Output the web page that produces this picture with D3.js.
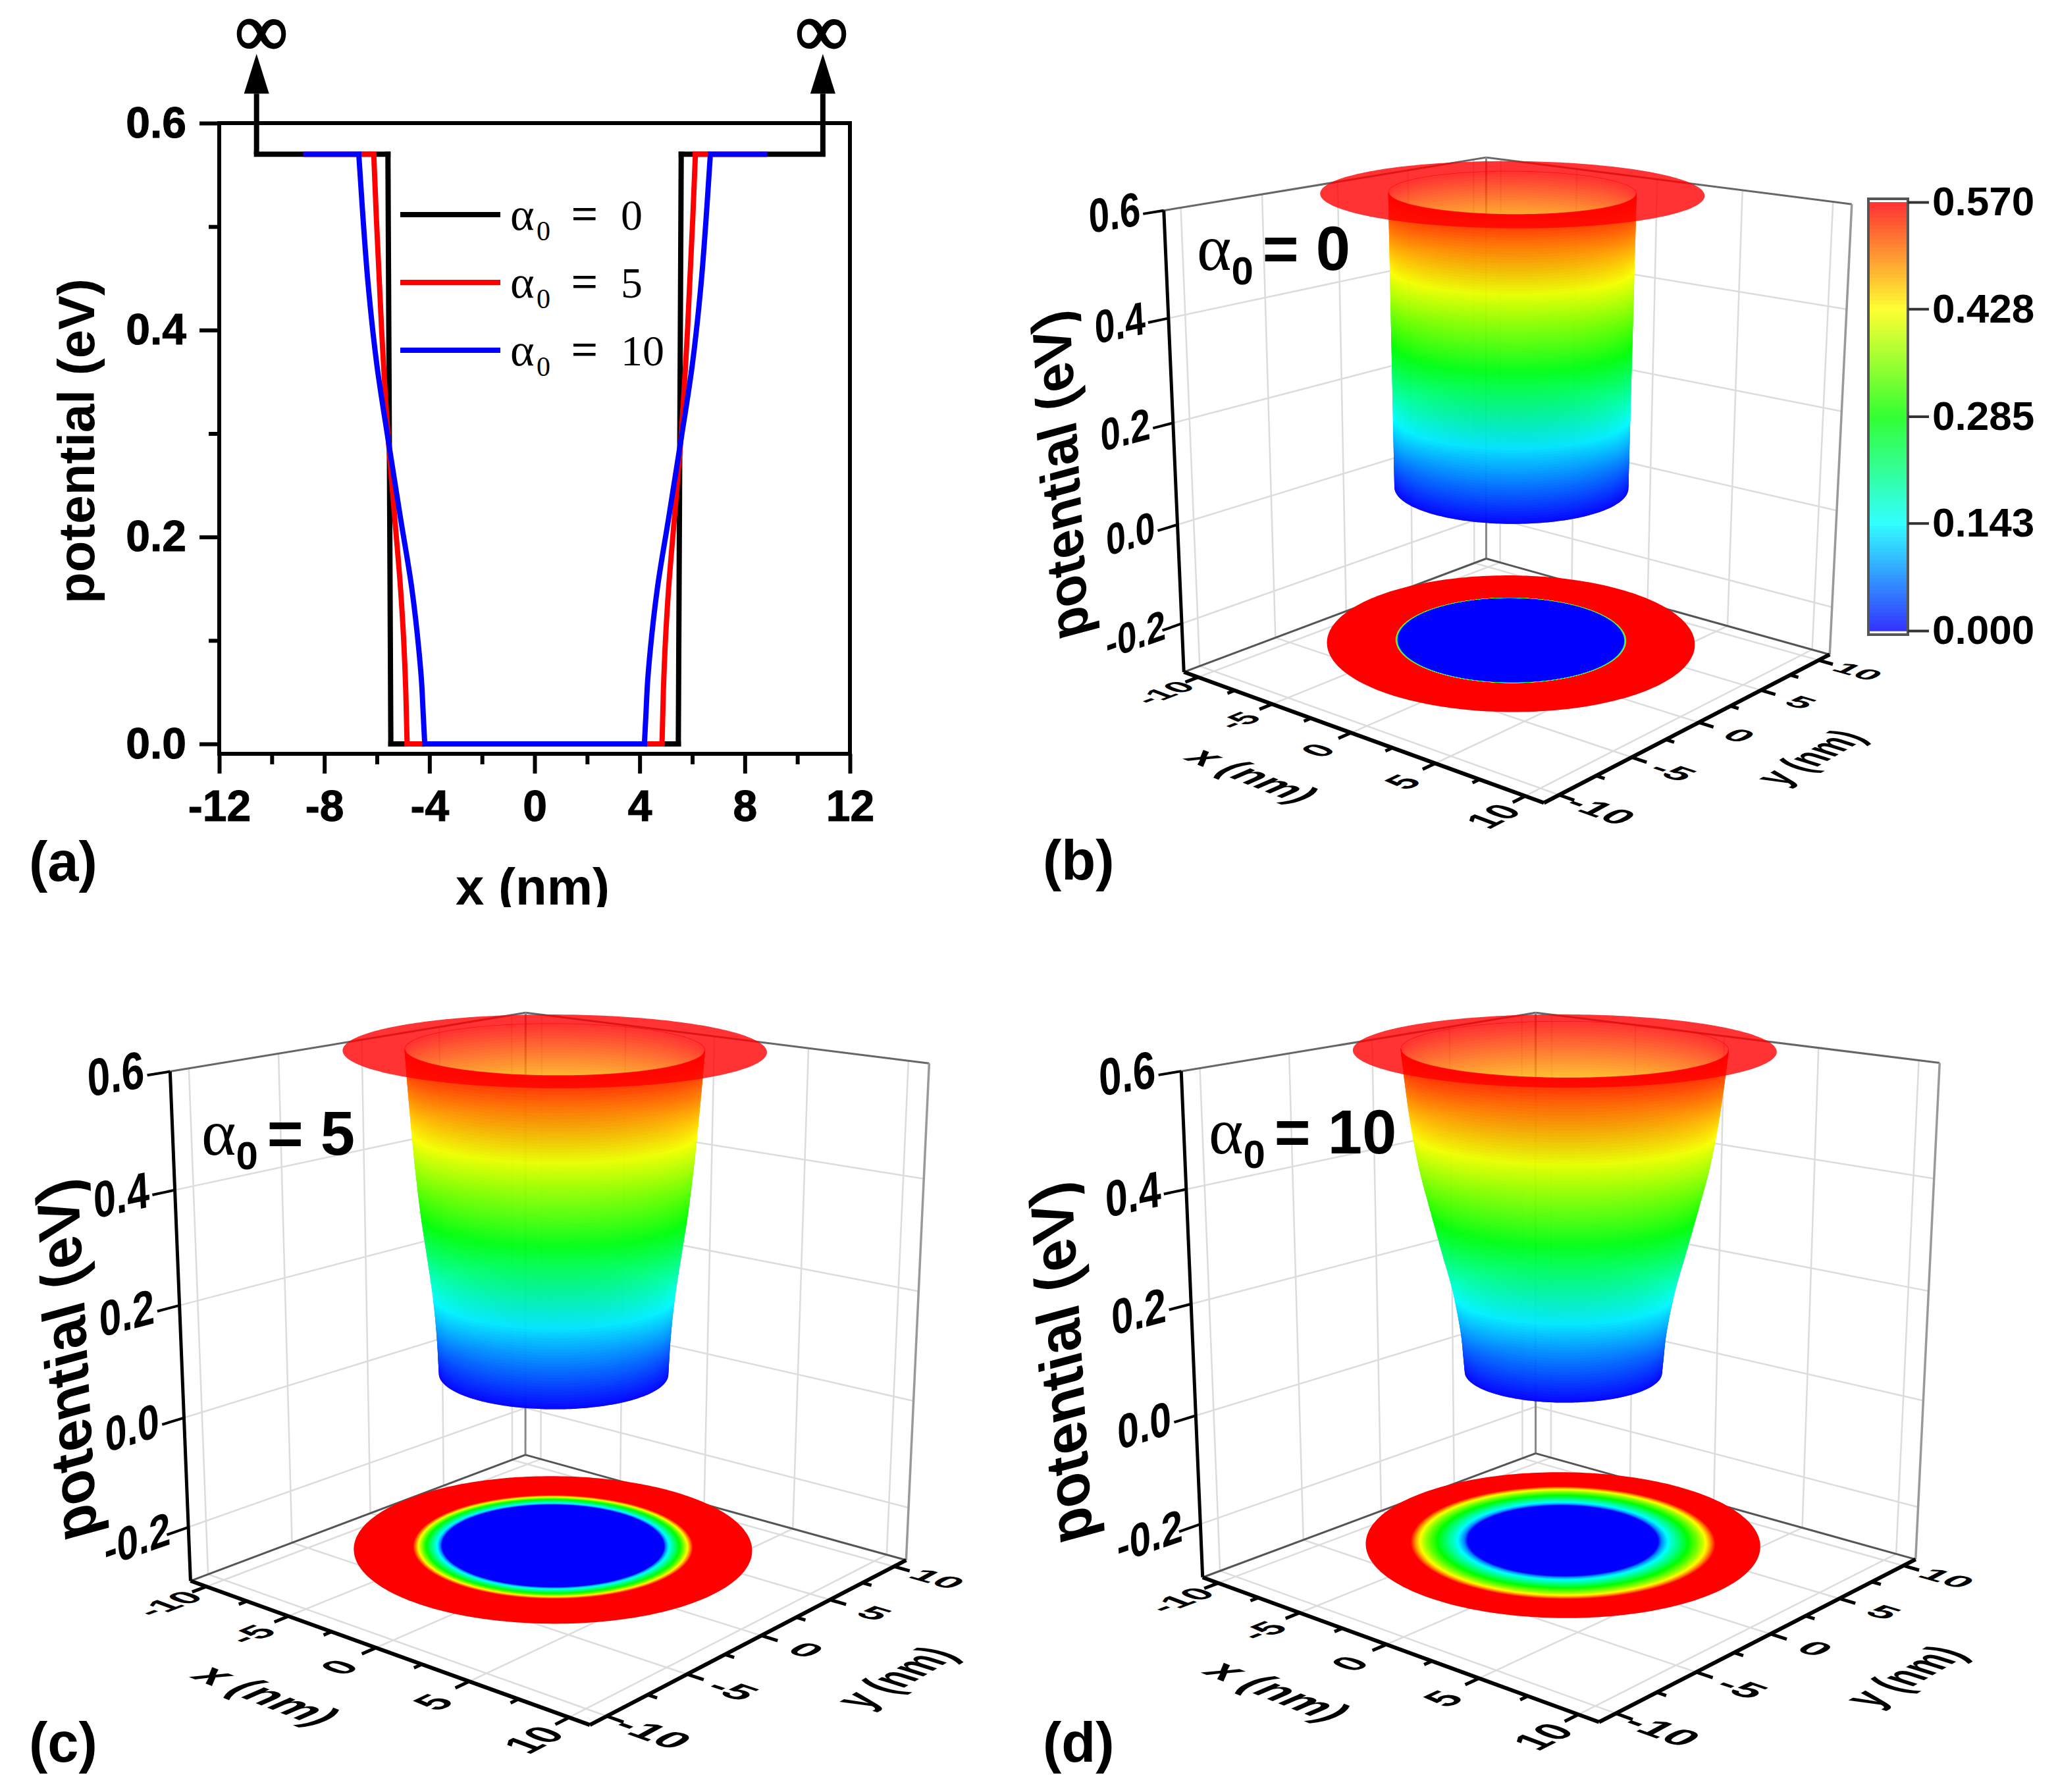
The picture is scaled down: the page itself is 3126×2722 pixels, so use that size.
<!DOCTYPE html>
<html><head><meta charset="utf-8">
<script src="https://cdnjs.cloudflare.com/ajax/libs/d3/7.8.5/d3.min.js"></script>
<style>html,body{margin:0;padding:0;background:#fff}svg{display:block}</style>
</head><body><svg id="c" width="3126" height="2722" font-family='"Liberation Sans",Arial,sans-serif'></svg>
<script>
// ---------- data ----------
const xMajorTicks = [-12,-8,-4,0,4,8,12];
const xMinorTicks = [-10,-6,-2,2,6,10];
const yMajorTicks = [0,0.2,0.4,0.6];
const yMinorTicks = [0.1,0.3,0.5];
const alphaValues = [0,5,10];
const seriesColors = ["#000000","#ff0000","#0000ff"];
const potBlack = [0,0.57];
const radBlack = [5.47,5.58];
const potRed = [0,0.05,0.1,0.15,0.218,0.292,0.40,0.508,0.57];
const radRed = [4.85,4.9,4.98,5.1,5.32,5.56,5.82,6.02,6.12];
const potBlue = [0,0.03,0.06,0.09,0.15,0.218,0.292,0.366,0.446,0.52,0.57];
const radBlue = [4.18,4.24,4.3,4.4,4.67,5.1,5.56,6.0,6.34,6.56,6.69];
const wellTop = 0.57;
const barrierEdgeBlack = [-10.58,10.97];
const barrierEdgeColored = [-8.7,8.75];
const arrowBase = 0.6285, arrowTip = 0.667;
const flangeRadius = 8.65;
const gridXY = [-10,-5,0,5,10];
const minorXY = [-7.5,-2.5,2.5,7.5];
const gridZ = [-0.2,0,0.2,0.4,0.6];
const colorTicks = [0,0.143,0.285,0.428,0.57];
const colorTickLabels = ["0.000","0.143","0.285","0.428","0.570"];
const rainbowColors = ["#0000ff","#00ffff","#00ff00","#ffff00","#ff0000"];

// ---------- layout ----------
const svg = d3.select("#c");
const SANS = '"Liberation Sans",Arial,sans-serif', SERIF='"Liberation Serif","Times New Roman",serif';
const color = d3.scaleLinear().domain(colorTicks).range(rainbowColors);
const BOX = 11, Z0 = -0.3, Z1 = 0.6;

// monotone smoothing of a read profile, used only to render it
function smoothProfile(xs,ys){
  const n=xs.length, s=d3.range(n-1).map(i=>(ys[i+1]-ys[i])/(xs[i+1]-xs[i]));
  const m=d3.range(n).map(i=> i===0?s[0]: i===n-1?s[n-2]: 2*s[i-1]*s[i]/(s[i-1]+s[i]));
  return v=>{
    let i=Math.min(d3.bisectRight(xs,v)-1,n-2); i=Math.max(i,0);
    const h=xs[i+1]-xs[i], t=(v-xs[i])/h, t2=t*t, t3=t2*t;
    return (2*t3-3*t2+1)*ys[i]+(t3-2*t2+t)*h*m[i]+(-2*t3+3*t2)*ys[i+1]+(t3-t2)*h*m[i+1];
  };
}

// ---------- panel (a) ----------
const x = d3.scaleLinear().domain([-12,12]).range([333,1291]);
const y = d3.scaleLinear().domain([0,0.6]).range([1130,187]);
const A = svg.append("g");
function styleAxis(g){
  g.select(".domain").remove();
  g.selectAll("line").attr("stroke","#000").attr("stroke-width",6);
  g.selectAll("text").attr("fill","#000").attr("font-family",SANS).attr("font-weight","bold").attr("font-size",66)
   .attr("stroke","#000").attr("stroke-width",1);
}
A.append("g").attr("transform","translate(333,0)").call(d3.axisLeft(y).tickValues(yMinorTicks).tickSize(16).tickFormat("")).call(styleAxis);
A.append("g").attr("transform","translate(333,0)").call(d3.axisLeft(y).tickValues(yMajorTicks).tickSize(30).tickPadding(20).tickFormat(d3.format(".1f"))).call(styleAxis);
A.append("g").attr("transform","translate(0,1145)").call(d3.axisBottom(x).tickValues(xMinorTicks).tickSize(16).tickFormat("")).call(styleAxis);
A.append("g").attr("transform","translate(0,1145)").call(d3.axisBottom(x).tickValues(xMajorTicks).tickSize(30).tickPadding(25).tickFormat(d=>String(d))).call(styleAxis);
A.append("rect").attr("x",333).attr("y",187).attr("width",958).attr("height",958).attr("fill","none").attr("stroke","#000").attr("stroke-width",6);
const flatLine = d3.line().x(d=>x(d[0])).y(d=>y(d[1]));
const sideLine = d3.line().x(d=>x(d[0])).y(d=>y(d[1])).curve(d3.curveMonotoneY);
const profiles = [[potBlack,radBlack,barrierEdgeBlack],[potRed,radRed,barrierEdgeColored],[potBlue,radBlue,barrierEdgeColored]];
profiles.forEach((p,i)=>{
  const rmin=p[1][0], rmax=p[1][p[1].length-1];
  const base=A.append("g").attr("fill","none").attr("stroke",seriesColors[i]).attr("stroke-width",8).attr("stroke-linejoin","miter").attr("stroke-linecap","square");
  base.append("path").attr("d",flatLine([[p[2][0],wellTop],[-rmax,wellTop]]));
  base.append("path").attr("d",flatLine([[-rmin,0],[rmin,0]]));
  base.append("path").attr("d",flatLine([[rmax,wellTop],[p[2][1],wellTop]]));
  base.append("path").attr("d",sideLine(p[0].map((v,k)=>[-p[1][k],v])));
  base.append("path").attr("d",sideLine(p[0].map((v,k)=>[p[1][k],v])));
});
barrierEdgeBlack.forEach((e,i)=>{
  A.append("path").attr("d",flatLine([[e,wellTop],[e,arrowBase]])).attr("stroke","#000").attr("stroke-width",8).attr("fill","none");
  A.append("path").attr("d",`M${x(e)-19},${y(arrowBase)}L${x(e)},${y(arrowTip)}L${x(e)+19},${y(arrowBase)}Z`).attr("fill","#000");
  A.append("text").attr("x",[397,1248][i]).attr("y",84).attr("text-anchor","middle").attr("font-family",SERIF)
   .attr("font-size",112).attr("stroke","#000").attr("stroke-width",3).text("∞");
});
alphaValues.forEach((a,i)=>{
  const yy = 326+i*103;
  A.append("line").attr("x1",608).attr("x2",760).attr("y1",yy).attr("y2",yy).attr("stroke",seriesColors[i]).attr("stroke-width",8);
  const t = (s,xx,yb,fs)=>A.append("text").attr("x",xx).attr("y",yb).attr("font-family",SERIF).attr("font-size",fs).text(s);
  t("α",775,yy+23,70); t("0",815,yy+39,42); t("=",868,yy+23,70).attr("stroke","#000").attr("stroke-width",1); t(String(a),943,yy+23,66);
});
A.append("text").attr("transform","translate(143,670) rotate(-90)").attr("text-anchor","middle")
 .attr("font-weight","bold").attr("font-size",78).text("potential (eV)");
svg.append("clipPath").attr("id","clipA").append("rect").attr("x",0).attr("y",1300).attr("width",1400).attr("height",78);
A.append("g").attr("clip-path","url(#clipA)").append("text").attr("x",809).attr("y",1374).attr("text-anchor","middle")
 .attr("font-weight","bold").attr("font-size",78).text("x (nm)");

// ---------- panel labels ----------
[["(a)",44,1338],["(b)",1584,1336],["(c)",44,2676],["(d)",1584,2676]].forEach(d=>{
  svg.append("text").attr("x",d[1]).attr("y",d[2]).attr("font-weight","bold").attr("font-size",85).text(d[0]);
});

// ---------- projective camera solved from the box corners ----------
function solve(M,b){
  const n=b.length; const a=M.map((r,i)=>[...r,b[i]]);
  for(let c=0;c<n;c++){
    let p=c; for(let r=c+1;r<n;r++) if(Math.abs(a[r][c])>Math.abs(a[p][c])) p=r;
    [a[c],a[p]]=[a[p],a[c]];
    for(let r=0;r<n;r++) if(r!==c){const f=a[r][c]/a[c][c]; for(let k=c;k<=n;k++) a[r][k]-=f*a[c][k];}
  }
  return a.map((r,i)=>r[n]/r[i]);
}
function camera(corners){
  const nz=z=>(z-0.15)/0.45, nx=v=>v/BOX, U=u=>(u-1500)/500;
  const world=[[-BOX,-BOX,Z1],[-BOX,-BOX,Z0],[-BOX,BOX,Z1],[-BOX,BOX,Z0],[BOX,BOX,Z1],[BOX,BOX,Z0],[BOX,-BOX,Z0]];
  const rows=[],rhs=[];
  world.forEach((w,i)=>{
    const X=nx(w[0]),Y=nx(w[1]),Z=nz(w[2]),u=U(corners[i][0]),v=U(corners[i][1]);
    rows.push([X,Y,Z,1,0,0,0,0,-u*X,-u*Y,-u*Z]); rhs.push(u);
    rows.push([0,0,0,0,X,Y,Z,1,-v*X,-v*Y,-v*Z]); rhs.push(v);
  });
  const N=Array.from({length:11},()=>new Array(11).fill(0)), B=new Array(11).fill(0);
  rows.forEach((r,k)=>{for(let i=0;i<11;i++){B[i]+=r[i]*rhs[k];for(let j=0;j<11;j++)N[i][j]+=r[i]*r[j];}});
  const p=solve(N,B);
  return (a,b,c)=>{
    const X=nx(a),Y=nx(b),Z=nz(c);
    const w=p[8]*X+p[9]*Y+p[10]*Z+1;
    return [(p[0]*X+p[1]*Y+p[2]*Z+p[3])/w*500+1500,(p[4]*X+p[5]*Y+p[6]*Z+p[7])/w*500+1500];
  };
}
const nAng=240, angles=d3.range(nAng).map(i=>i/nAng*2*Math.PI);
const lp=d3.line();

function panel3D(cfg){
  const P=camera(cfg.corners), g=svg.append("g");
  const seg=(a,b,st,w)=>g.append("path").attr("d",lp([P(...a),P(...b)])).attr("stroke",st).attr("stroke-width",w).attr("fill","none");
  const GRID="#dcdcdc";
  gridXY.forEach(v=>{
    seg([-BOX,v,Z0],[-BOX,v,Z1],GRID,2.5);
    seg([v,BOX,Z0],[v,BOX,Z1],GRID,2.5);
    seg([v,-BOX,Z0],[v,BOX,Z0],GRID,2.5);
    seg([-BOX,v,Z0],[BOX,v,Z0],GRID,2.5);
  });
  gridZ.slice(0,-1).forEach(z=>{
    seg([-BOX,-BOX,z],[-BOX,BOX,z],GRID,2.5);
    seg([-BOX,BOX,z],[BOX,BOX,z],GRID,2.5);
  });
  seg([-BOX,-BOX,Z1],[-BOX,BOX,Z1],"#666",3);
  seg([-BOX,BOX,Z1],[BOX,BOX,Z1],"#666",3);
  seg([-BOX,BOX,Z0],[-BOX,BOX,Z1],"#888",3);
  seg([BOX,BOX,Z0],[BOX,BOX,Z1],"#999",3.5);
  seg([-BOX,-BOX,Z0],[-BOX,BOX,Z0],"#555",3);
  seg([-BOX,BOX,Z0],[BOX,BOX,Z0],"#555",3);

  const rOf=smoothProfile(cfg.pots,cfg.rads);
  const ring=(r,v)=>angles.map(t=>P(r*Math.cos(t),r*Math.sin(t),v));
  const circle=(r,v)=>lp(ring(r,v))+"Z";
  const levels=d3.range(0,115).map(i=>i*0.005);
  // floor projection
  const fl=g.append("g").attr("transform",`translate(0,${cfg.floorDy})`);
  fl.append("path").attr("d",circle(cfg.floorR,Z0)).attr("fill",color(0.57));
  levels.slice().reverse().forEach(v=>{
    fl.append("path").attr("d",circle(rOf(v)*0.99,Z0)).attr("fill",color(v));
  });
  // funnel
  function arcs(r,v){
    const pts=ring(r,v); let a=0,b=0;
    pts.forEach((p,i)=>{if(p[0]<pts[a][0])a=i; if(p[0]>pts[b][0])b=i;});
    const walk=(s,e)=>{const o=[];for(let i=s;;i=(i+1)%nAng){o.push(pts[i]);if(i===e)break;}return o;};
    const A1=walk(a,b),A2=walk(b,a);
    return d3.mean(A1,p=>p[1])>d3.mean(A2,p=>p[1])?{front:A1,back:A2}:{front:A2,back:A1};
  }
  const sf=g.append("g").attr("transform",`translate(0,${cfg.surfDy})`);
  const back=sf.append("g").attr("opacity",0.8);
  back.append("path").attr("d",circle(rOf(0),0)).attr("fill",color(0)).attr("stroke",color(0)).attr("stroke-width",1.5);
  const front=sf.append("g").attr("opacity",0.85);
  for(let i=0;i<levels.length-1;i++){
    const v0=levels[i],v1=levels[i+1],a0=arcs(rOf(v0),v0),a1=arcs(rOf(v1),v1),c=color((v0+v1)/2);
    [[back,"back"],[front,"front"]].forEach(([grp,key])=>{
      grp.append("path").attr("d",lp(a0[key].concat(a1[key].slice().reverse()))+"Z")
        .attr("fill",c).attr("stroke",c).attr("stroke-width",1.5);
    });
  }
  sf.append("path").attr("d",circle(flangeRadius,wellTop)+circle(rOf(wellTop),wellTop))
   .attr("fill","#ff0000").attr("fill-rule","evenodd").attr("opacity",0.8);

  // axes
  seg([-BOX,-BOX,Z0],[-BOX,-BOX,Z1],"#000",5);
  seg([-BOX,-BOX,Z0],[BOX,-BOX,Z0],"#000",6);
  seg([BOX,-BOX,Z0],[BOX,BOX,Z0],"#000",6);
  gridZ.forEach(z=>seg([-BOX,-BOX,z],[-BOX,-BOX-1.2,z],"#000",4));
  gridXY.forEach(v=>{seg([v,-BOX,Z0],[v,-BOX-0.8,Z0],"#000",5);seg([BOX,v,Z0],[BOX+0.8,v,Z0],"#000",5);});
  minorXY.forEach(v=>{seg([v,-BOX,Z0],[v,-BOX-0.45,Z0],"#000",5);seg([BOX,v,Z0],[BOX+0.45,v,Z0],"#000",5);});

  function planeText(s,p,u,v,emU,emV){
    const c=P(...p);
    const pu=P(p[0]+u[0]*emU,p[1]+u[1]*emU,p[2]+u[2]*emU), pv=P(p[0]+v[0]*emV,p[1]+v[1]*emV,p[2]+v[2]*emV);
    const m=[(pu[0]-c[0])/100,(pu[1]-c[1])/100,-(pv[0]-c[0])/100,-(pv[1]-c[1])/100,c[0],c[1]];
    g.append("text").attr("transform",`matrix(${m.join(",")})`).attr("text-anchor","middle").attr("dy",36)
     .attr("font-size",100).attr("font-weight","bold").text(s);
  }
  gridZ.forEach(z=>planeText(z.toFixed(1),[-BOX,-BOX-2.8,z+0.012],[0,1,0],[0,0,1],2.1,0.085));
  gridXY.forEach(v=>{
    planeText(String(v),[v+0.2,-BOX-2.3,Z0],[0,1,0],[-1,0,0],2.0,2.0);
    planeText(String(v),[BOX+2.2,v,Z0],[1,0,0],[0,1,0],2.0,2.0);
  });
  planeText("x (nm)",[0,-BOX-5.9,Z0],[1,0,0],[0,1,0],2.3,2.3);
  planeText("y (nm)",[BOX+cfg.yTitle,0,Z0],[0,1,0],[-1,0,0],2.3,2.3);
  planeText("potential (eV)",[-BOX,-BOX-cfg.zTitle,0.157],[0,0,1],[0,-1,0],0.0955,2.9);

  const L=cfg.label, t=g.append("text").attr("x",L[0]).attr("y",L[1]);
  t.append("tspan").attr("font-family",SERIF).attr("font-size",100).text("α");
  t.append("tspan").attr("dy",22).attr("font-size",60).attr("font-weight","bold").text("0");
  t.append("tspan").attr("dy",-22).attr("font-size",94).attr("font-weight","bold").attr("dx",14).text("= "+cfg.alpha);
}
panel3D({alpha:0,pots:potBlack,rads:radBlack,label:[1818,410],surfDy:-48,floorDy:-38,floorR:8.8,zTitle:6.6,yTitle:5.8,
  corners:[[1768,319],[1799,1021],[2257,239],[2257,849],[2813,311],[2780,993],[2344,1220]]});
panel3D({alpha:5,pots:potRed,rads:radRed,label:[306,1754],surfDy:-56,floorDy:-40,floorR:8.6,zTitle:6.0,yTitle:6.3,
  corners:[[258,1629],[288,2400],[799,1538],[799,2210],[1411,1614],[1375,2371],[898,2620]]});
panel3D({alpha:10,pots:potBlue,rads:radBlue,label:[1836,1752],surfDy:-56,floorDy:-44,floorR:8.55,zTitle:6.9,yTitle:6.3,
  corners:[[1794,1628],[1826,2395],[2333,1538],[2333,2208],[2946,1614],[2909,2369],[2430,2616]]});

// ---------- colour bar ----------
const cb=d3.scaleLinear().domain([0,0.57]).range([958,307]);
const C=svg.append("g");
const barG=C.append("g").attr("opacity",0.8);
d3.range(0,114).forEach(i=>{
  const v0=i*0.005,v1=(i+1)*0.005;
  barG.append("rect").attr("x",2838).attr("width",60).attr("y",cb(v1)).attr("height",cb(v0)-cb(v1)+0.8).attr("fill",color(v0+0.0025));
});
C.append("rect").attr("x",2838).attr("y",302).attr("width",60).attr("height",662).attr("fill","none").attr("stroke","#555").attr("stroke-width",4);
C.append("g").attr("transform","translate(2898,0)").call(d3.axisRight(cb).tickValues(colorTicks).tickSize(32).tickPadding(5).tickFormat((d,i)=>colorTickLabels[i]))
 .call(g=>{g.select(".domain").remove();g.selectAll("line").attr("stroke","#333").attr("stroke-width",4);
   g.selectAll("text").attr("fill","#000").attr("font-family",SANS).attr("font-weight","bold").attr("font-size",62);});
</script></body></html>
